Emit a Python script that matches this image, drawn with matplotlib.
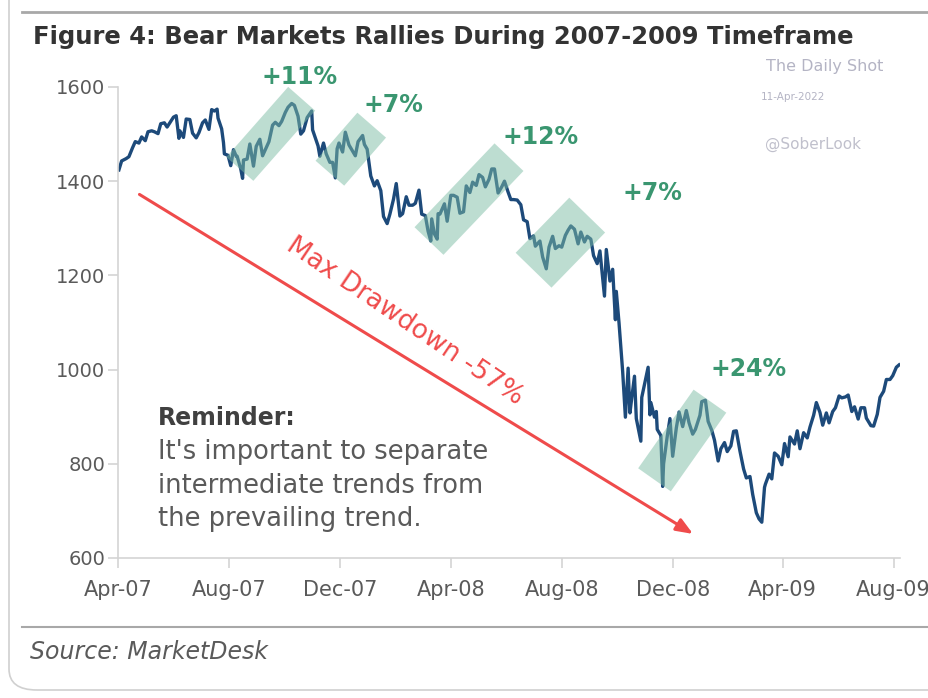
"""Bear market rallies during the 2007-2009 S&P 500 decline."""

import matplotlib.dates as mdates
import matplotlib.pyplot as plt
import numpy as np
import pandas as pd
from matplotlib.patches import FancyBboxPatch, Polygon

# approximate index levels
dates = [
    "2007-04-02", "2007-04-05", "2007-04-10", "2007-04-13", "2007-04-17", "2007-04-20", "2007-04-24", "2007-04-27",
    "2007-05-01", "2007-05-04", "2007-05-08", "2007-05-11", "2007-05-15", "2007-05-18", "2007-05-22", "2007-05-25",
    "2007-05-30", "2007-06-01", "2007-06-04", "2007-06-07", "2007-06-08", "2007-06-12", "2007-06-15", "2007-06-19",
    "2007-06-22", "2007-06-26", "2007-06-29", "2007-07-03", "2007-07-06", "2007-07-10", "2007-07-13", "2007-07-16",
    "2007-07-19", "2007-07-20", "2007-07-24", "2007-07-26", "2007-07-27", "2007-07-31", "2007-08-03", "2007-08-06",
    "2007-08-09", "2007-08-10", "2007-08-14", "2007-08-16", "2007-08-17", "2007-08-21", "2007-08-24", "2007-08-28",
    "2007-08-31", "2007-09-04", "2007-09-07", "2007-09-11", "2007-09-14", "2007-09-18", "2007-09-21", "2007-09-25",
    "2007-09-28", "2007-10-02", "2007-10-05", "2007-10-09", "2007-10-12", "2007-10-16", "2007-10-19", "2007-10-22",
    "2007-10-26", "2007-10-31", "2007-11-01", "2007-11-07", "2007-11-09", "2007-11-13", "2007-11-16", "2007-11-20",
    "2007-11-23", "2007-11-26", "2007-11-28", "2007-11-30", "2007-12-04", "2007-12-07", "2007-12-11", "2007-12-14",
    "2007-12-18", "2007-12-21", "2007-12-26", "2007-12-28", "2007-12-31",
    "2008-01-04", "2008-01-08", "2008-01-11", "2008-01-15", "2008-01-18", "2008-01-22", "2008-01-25", "2008-01-29",
    "2008-02-01", "2008-02-05", "2008-02-08", "2008-02-12", "2008-02-15", "2008-02-19", "2008-02-22", "2008-02-26",
    "2008-02-29", "2008-03-04", "2008-03-07", "2008-03-10", "2008-03-11", "2008-03-14", "2008-03-17", "2008-03-18",
    "2008-03-20", "2008-03-25", "2008-03-28", "2008-04-01", "2008-04-04", "2008-04-08", "2008-04-11", "2008-04-15",
    "2008-04-18", "2008-04-22", "2008-04-25", "2008-04-29", "2008-05-02", "2008-05-06", "2008-05-09", "2008-05-13",
    "2008-05-16", "2008-05-19", "2008-05-23", "2008-05-27", "2008-05-30", "2008-06-03", "2008-06-06", "2008-06-09",
    "2008-06-13", "2008-06-17", "2008-06-20", "2008-06-24", "2008-06-27", "2008-07-01", "2008-07-03", "2008-07-08",
    "2008-07-11", "2008-07-15", "2008-07-18", "2008-07-22", "2008-07-25", "2008-07-29", "2008-08-01", "2008-08-05",
    "2008-08-08", "2008-08-11", "2008-08-15", "2008-08-19", "2008-08-22", "2008-08-26", "2008-08-29", "2008-09-02",
    "2008-09-05", "2008-09-09", "2008-09-12", "2008-09-15", "2008-09-17", "2008-09-19", "2008-09-23", "2008-09-26",
    "2008-09-29", "2008-09-30", "2008-10-03", "2008-10-07", "2008-10-10", "2008-10-13", "2008-10-15", "2008-10-17",
    "2008-10-20", "2008-10-22", "2008-10-24", "2008-10-27", "2008-10-28", "2008-10-31", "2008-11-04", "2008-11-06",
    "2008-11-07", "2008-11-11", "2008-11-13", "2008-11-14", "2008-11-18", "2008-11-20", "2008-11-21", "2008-11-25",
    "2008-11-28", "2008-12-01", "2008-12-05", "2008-12-08", "2008-12-12", "2008-12-16", "2008-12-19", "2008-12-23",
    "2008-12-26", "2008-12-31",
    "2009-01-02", "2009-01-06", "2009-01-09", "2009-01-13", "2009-01-16", "2009-01-20", "2009-01-23", "2009-01-27",
    "2009-01-30", "2009-02-03", "2009-02-06", "2009-02-09", "2009-02-13", "2009-02-17", "2009-02-20", "2009-02-24",
    "2009-02-27", "2009-03-03", "2009-03-06", "2009-03-09", "2009-03-12", "2009-03-13", "2009-03-17", "2009-03-20",
    "2009-03-23", "2009-03-27", "2009-03-31", "2009-04-03", "2009-04-07", "2009-04-09", "2009-04-14", "2009-04-17",
    "2009-04-20", "2009-04-24", "2009-04-28", "2009-05-01", "2009-05-05", "2009-05-08", "2009-05-12", "2009-05-15",
    "2009-05-19", "2009-05-22", "2009-05-26", "2009-05-29", "2009-06-02", "2009-06-05", "2009-06-09", "2009-06-12",
    "2009-06-16", "2009-06-19", "2009-06-23", "2009-06-26", "2009-06-30", "2009-07-02", "2009-07-07", "2009-07-10",
    "2009-07-14", "2009-07-17", "2009-07-21", "2009-07-24", "2009-07-28", "2009-07-31", "2009-08-04", "2009-08-07",
]
levels = [
    1424, 1443, 1448, 1452, 1471, 1484, 1481, 1494,
    1486, 1505, 1507, 1505, 1501, 1522, 1524, 1515,
    1530, 1536, 1539, 1491, 1507, 1493, 1532, 1531,
    1502, 1492, 1503, 1524, 1530, 1510, 1552, 1549,
    1553, 1534, 1511, 1482, 1458, 1455, 1433, 1467,
    1453, 1453, 1426, 1406, 1445, 1447, 1479, 1432,
    1474, 1489, 1454, 1471, 1484, 1519, 1525, 1518,
    1527, 1546, 1557, 1565, 1561, 1538, 1500, 1507,
    1535, 1549, 1509, 1475, 1453, 1481, 1458, 1440,
    1440, 1407, 1469, 1481, 1462, 1504, 1477, 1467,
    1454, 1484, 1497, 1478, 1468,
    1411, 1390, 1401, 1380, 1325, 1310, 1330, 1362,
    1395, 1326, 1331, 1367, 1349, 1349, 1353, 1381,
    1330, 1327, 1294, 1273, 1320, 1288, 1277, 1331,
    1330, 1352, 1315, 1370, 1370, 1366, 1332, 1335,
    1390, 1376, 1398, 1391, 1414, 1408, 1388, 1404,
    1426, 1426, 1375, 1388, 1400, 1377, 1361, 1361,
    1360, 1350, 1318, 1314, 1278, 1284, 1262, 1273,
    1239, 1214, 1260, 1283, 1257, 1263, 1260, 1285,
    1296, 1305, 1298, 1267, 1292, 1271, 1283, 1277,
    1242, 1225, 1252, 1193, 1156, 1255, 1188, 1213,
    1106, 1166, 1099, 996, 899, 1003, 908, 940,
    986, 896, 877, 848, 941, 968, 1005, 904,
    930, 899, 911, 873, 860, 752, 800, 858,
    896, 816, 876, 910, 879, 913, 887, 863,
    873, 903,
    932, 935, 890, 871, 850, 806, 832, 845,
    826, 838, 869, 870, 827, 789, 770, 773,
    735, 696, 683, 676, 750, 757, 778, 768,
    823, 816, 798, 843, 815, 857, 842, 870,
    832, 866, 855, 878, 903, 930, 909, 882,
    908, 887, 911, 919, 944, 940, 942, 946,
    911, 921, 895, 919, 919, 897, 881, 880,
    905, 941, 954, 979, 979, 987, 1005, 1010,
]

# rally highlight boxes: start/end of each rally leg and its label
rally_start = ["2007-08-13", "2007-11-20", "2008-03-08", "2008-07-01", "2008-11-11"]
rally_start_level = [1426, 1417, 1273, 1211, 766]
rally_end = ["2007-10-20", "2008-01-05", "2008-06-04", "2008-08-29", "2009-01-11"]
rally_end_level = [1575, 1519, 1451, 1328, 933]
rally_width_px = [36, 38, 40, 50, 40]
rally_labels = ["+11%", "+7%", "+12%", "+7%", "+24%"]
label_dates = ["2007-10-18", "2008-01-29", "2008-07-09", "2008-11-09", "2009-02-23"]
label_levels = [1622, 1562, 1494, 1374, 1002]

drawdown_start = ("2007-04-22", 1375)
drawdown_end = ("2008-12-26", 648)

series = pd.Series(levels, index=pd.to_datetime(dates))

navy = "#1d4a7a"
green = "#3a9670"
box_color = "#7dbda5"
red = "#ef4b4b"
grey_text = "#5a5a5a"

fig = plt.figure(figsize=(9.29, 6.98), dpi=100)
ax = fig.add_axes([118 / 929, 1 - 558 / 698, 782 / 929, 471 / 698])
ax.set_xlim(pd.Timestamp("2007-04-01"), pd.Timestamp("2009-08-08"))
ax.set_ylim(600, 1600)

ax.plot(series.index, series.values, color=navy, linewidth=2.4, zorder=2, solid_joinstyle="round")

# rotated boxes drawn in pixel space along each rally leg
to_px = ax.transData
from_px = ax.transData.inverted()
for s, sl, e, el, w in zip(rally_start, rally_start_level, rally_end, rally_end_level, rally_width_px):
    p0 = to_px.transform((mdates.date2num(pd.Timestamp(s)), sl))
    p1 = to_px.transform((mdates.date2num(pd.Timestamp(e)), el))
    d = p1 - p0
    n = np.array([-d[1], d[0]]) / np.hypot(*d) * w / 2
    corners = from_px.transform(np.array([p0 + n, p1 + n, p1 - n, p0 - n]))
    ax.add_patch(Polygon(corners, closed=True, facecolor=box_color, edgecolor="none",
                         alpha=0.5, zorder=3, clip_on=False))

for lab, d, v in zip(rally_labels, label_dates, label_levels):
    ax.text(pd.Timestamp(d), v, lab, color=green, fontsize=17, fontweight="bold",
            ha="center", va="center", clip_on=False)

ax.annotate("", xy=(pd.Timestamp(drawdown_end[0]), drawdown_end[1]),
            xytext=(pd.Timestamp(drawdown_start[0]), drawdown_start[1]),
            arrowprops=dict(arrowstyle="-|>,head_length=1.0,head_width=0.4", color=red, lw=2.2))
ax.text(pd.Timestamp("2008-02-10"), 1103, "Max Drawdown -57%", color=red, fontsize=19,
        rotation=-34, ha="center", va="center", rotation_mode="anchor")

ax.text(pd.Timestamp("2007-05-15"), 898, "Reminder:", color="#404040", fontsize=17,
        fontweight="bold", ha="left", va="center")
ax.text(pd.Timestamp("2007-05-15"), 852,
        "It's important to separate\nintermediate trends from\nthe prevailing trend.",
        color=grey_text, fontsize=18.5, ha="left", va="top", linespacing=1.36)

ax.xaxis.set_major_locator(mdates.MonthLocator(bymonth=[4, 8, 12]))
ax.xaxis.set_major_formatter(mdates.DateFormatter("%b-%y"))
ax.set_yticks([600, 800, 1000, 1200, 1400, 1600])
for side in ("top", "right"):
    ax.spines[side].set_visible(False)
for side in ("left", "bottom"):
    ax.spines[side].set_color("#d4d4d4")
    ax.spines[side].set_linewidth(1.2)
ax.tick_params(axis="both", colors="#d4d4d4", length=7, width=1.2, labelcolor=grey_text, labelsize=15)
ax.tick_params(axis="x", pad=9)
ax.tick_params(axis="y", pad=2, labelsize=14)

fig.text(33 / 929, 1 - 37 / 698, "Figure 4: Bear Markets Rallies During 2007-2009 Timeframe",
         fontsize=17.5, fontweight="bold", color="#333333", ha="left", va="center")
fig.text(825 / 929, 1 - 67 / 698, "The Daily Shot", fontsize=11.5, color="#b4b4c4", ha="center", va="center")
fig.text(793 / 929, 1 - 97 / 698, "11-Apr-2022", fontsize=7.5, color="#b4b4c4", ha="center", va="center")
fig.text(813 / 929, 1 - 144 / 698, "@SoberLook", fontsize=11, color="#c0c0cc", ha="center", va="center")
fig.text(30 / 929, 1 - 652 / 698, "Source: MarketDesk", fontsize=17, style="italic",
         color=grey_text, ha="left", va="center")

fig.add_artist(plt.Line2D([22 / 929, 1], [1 - 12 / 698] * 2, color="#a8a8a8", lw=2))
fig.add_artist(plt.Line2D([22 / 929, 1], [1 - 627 / 698] * 2, color="#a8a8a8", lw=1.5))
fig.add_artist(FancyBboxPatch((9 / 929, 8 / 698), 1.2, 1.2, boxstyle="round,pad=0,rounding_size=0.03",
                              transform=fig.transFigure, facecolor="none", edgecolor="#d0d0d0", lw=1.2))

fig.savefig("out.png", dpi=100)
